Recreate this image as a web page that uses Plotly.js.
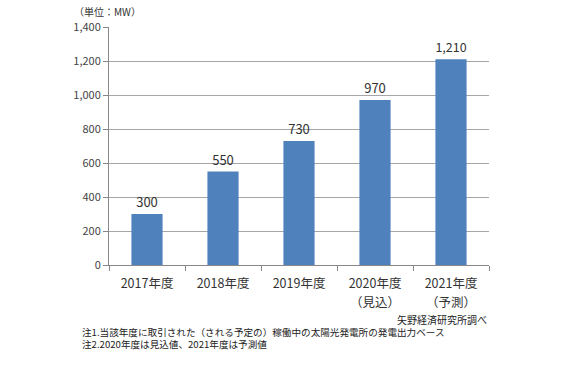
<!DOCTYPE html>
<html><head><meta charset="utf-8">
<script src="https://cdn.plot.ly/plotly-3.0.1.min.js"></script>
<style>body{margin:0;background:#fff}#c{width:564px;height:376px}</style>
</head><body><div id="c"></div>
<script>
const categories = ["2017年度", "2018年度", "2019年度", "2020年度", "2021年度"];
const subLabels = ["", "", "", "（見込）", "（予測）"];
const values = [300, 550, 730, 970, 1210];
const valueLabels = ["300", "550", "730", "970", "1,210"];
const unitText = "（単位：MW）";
const sourceText = "矢野経済研究所調べ";
const notes = ["注1.当該年度に取引された（される予定の）稼働中の太陽光発電所の発電出力ベース", "注2.2020年度は見込値、2021年度は予測値"];

const font = "Noto Sans CJK JP, sans-serif";
const trace = {
  type: "bar", x: categories, y: values, text: valueLabels,
  textposition: "outside", cliponaxis: false,
  textfont: {family: font, size: 13, color: "#333"},
  marker: {color: "#4f81bd"}, width: 0.41, hoverinfo: "none"
};
const annotations = [
  {text: unitText, xref: "paper", yref: "paper", x: -0.005, y: 1.0, yshift: 16, xanchor: "center", yanchor: "middle", showarrow: false, font: {family: font, size: 10, color: "#333"}},
  {text: sourceText, xref: "paper", yref: "paper", x: 1.0, y: 0, yshift: -54, xanchor: "right", yanchor: "middle", showarrow: false, font: {family: font, size: 10, color: "#222"}},
  {text: notes.join("<br>"), xref: "paper", yref: "paper", x: -0.076, xanchor: "left", align: "left", y: 0, yshift: -73, yanchor: "middle", showarrow: false, font: {family: font, size: 9.6, color: "#222"}}
];
categories.forEach((c, i) => {
  if (subLabels[i]) annotations.push({text: subLabels[i], xref: "x", yref: "paper", x: c, y: 0, yshift: -36, xanchor: "center", yanchor: "middle", showarrow: false, font: {family: font, size: 12.5, color: "#333"}});
});
const layout = {
  width: 564, height: 376,
  margin: {l: 109, r: 75, t: 27, b: 111},
  paper_bgcolor: "#fff", plot_bgcolor: "#fff",
  showlegend: false,
  font: {family: font, size: 12, color: "#333"},
  xaxis: {
    type: "category", showline: true, linecolor: "#888", linewidth: 1,
    ticks: "outside", tickson: "boundaries", ticklen: 5, tickcolor: "#888",
    ticklabelstandoff: 7,
    tickfont: {family: font, size: 12.5, color: "#333"}, showgrid: false
  },
  yaxis: {
    range: [0, 1400], dtick: 200, tickformat: ",d",
    showline: true, linecolor: "#888", linewidth: 1,
    ticks: "outside", ticklen: 5, tickcolor: "#888",
    gridcolor: "#a6a6a6", gridwidth: 1, zeroline: false,
    tickfont: {family: font, size: 11, color: "#444"}
  },
  annotations: annotations
};
Plotly.newPlot("c", [trace], layout, {staticPlot: true, displayModeBar: false});
</script></body></html>
